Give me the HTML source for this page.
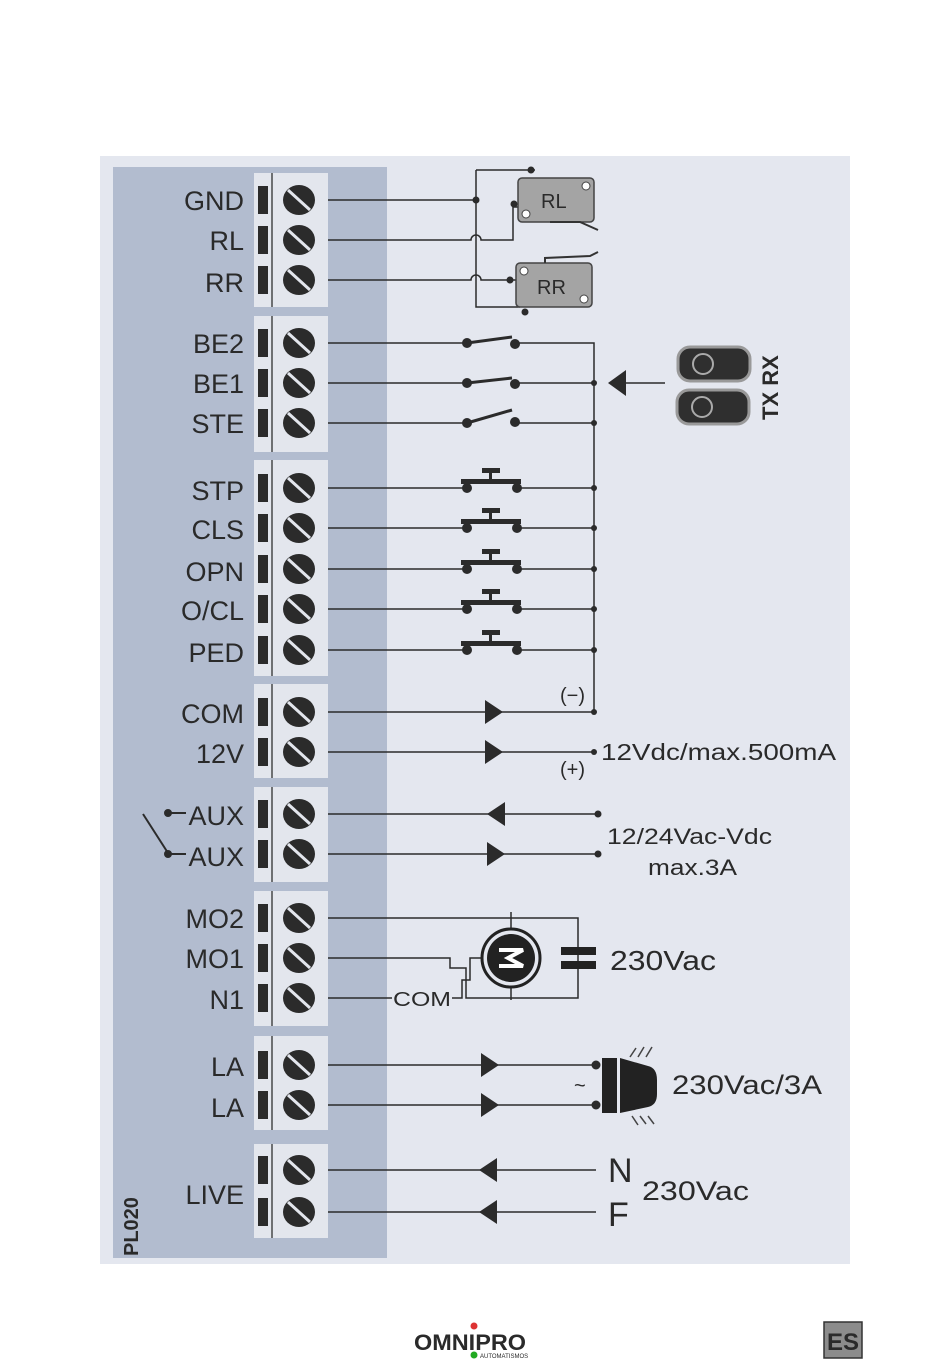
<!DOCTYPE html>
<html><head><meta charset="utf-8"><style>
html,body{margin:0;padding:0;background:#fff;}
svg{display:block;}
text{font-family:"Liberation Sans",sans-serif;fill:#2a2a2a;}
</style></head><body>
<svg width="950" height="1364" viewBox="0 0 950 1364" xmlns="http://www.w3.org/2000/svg">
<rect x="0" y="0" width="950" height="1364" fill="#fff"/>
<rect x="100" y="156" width="750" height="1108" fill="#e4e7ef"/>
<rect x="113" y="167" width="274" height="1091" fill="#b2bccf"/>
<g fill="#e3e6ed">
<rect x="254" y="173" width="74" height="134"/>
<rect x="254" y="316" width="74" height="136"/>
<rect x="254" y="460" width="74" height="216"/>
<rect x="254" y="684" width="74" height="94"/>
<rect x="254" y="787" width="74" height="95"/>
<rect x="254" y="891" width="74" height="135"/>
<rect x="254" y="1036" width="74" height="94"/>
<rect x="254" y="1144" width="74" height="94"/>
</g>
<g stroke="#222" stroke-width="1.2">
<line x1="272" y1="173" x2="272" y2="307"/><line x1="272" y1="316" x2="272" y2="452"/>
<line x1="272" y1="460" x2="272" y2="676"/><line x1="272" y1="684" x2="272" y2="778"/>
<line x1="272" y1="787" x2="272" y2="882"/><line x1="272" y1="891" x2="272" y2="1026"/>
<line x1="272" y1="1036" x2="272" y2="1130"/><line x1="272" y1="1144" x2="272" y2="1238"/>
</g>
<defs>
<g id="t">
<rect x="258" y="-14" width="10" height="28" fill="#2b2b2b"/>
<ellipse cx="299" cy="0" rx="16" ry="15" fill="#2b2b2b"/>
<line x1="288" y1="-10" x2="310" y2="10" stroke="#e3e6ed" stroke-width="3"/>
</g>
<g id="pb" fill="#2b2b2b">
<circle cx="467" cy="0" r="5"/><circle cx="517" cy="0" r="5"/>
<rect x="461" y="-9" width="60" height="5"/>
<rect x="489" y="-15" width="3" height="7"/>
<rect x="482" y="-20" width="18" height="5"/>
</g>
</defs>
<g font-size="27" text-anchor="end">
<use href="#t" y="200"/><text x="244" y="210">GND</text>
<use href="#t" y="240"/><text x="244" y="250">RL</text>
<use href="#t" y="280"/><text x="244" y="292">RR</text>
<use href="#t" y="343"/><text x="244" y="353">BE2</text>
<use href="#t" y="383"/><text x="244" y="393">BE1</text>
<use href="#t" y="423"/><text x="244" y="433">STE</text>
<use href="#t" y="488"/><text x="244" y="500">STP</text>
<use href="#t" y="528"/><text x="244" y="539">CLS</text>
<use href="#t" y="569"/><text x="244" y="581">OPN</text>
<use href="#t" y="609"/><text x="244" y="620">O/CL</text>
<use href="#t" y="650"/><text x="244" y="662">PED</text>
<use href="#t" y="712"/><text x="244" y="723">COM</text>
<use href="#t" y="752"/><text x="244" y="763">12V</text>
<use href="#t" y="814"/><text x="244" y="825">AUX</text>
<use href="#t" y="854"/><text x="244" y="866">AUX</text>
<use href="#t" y="918"/><text x="244" y="928">MO2</text>
<use href="#t" y="958"/><text x="244" y="968">MO1</text>
<use href="#t" y="998"/><text x="244" y="1009">N1</text>
<use href="#t" y="1065"/><text x="244" y="1076">LA</text>
<use href="#t" y="1105"/><text x="244" y="1117">LA</text>
<use href="#t" y="1170"/><text x="244" y="1204">LIVE</text>
<use href="#t" y="1212"/>
</g>
<g stroke="#2b2b2b" stroke-width="2" fill="#2b2b2b">
<line x1="143" y1="814" x2="168" y2="853"/>
<circle cx="168" cy="813" r="3"/><line x1="168" y1="813" x2="186" y2="813"/>
<circle cx="168" cy="854" r="3"/><line x1="168" y1="854" x2="186" y2="854"/>
</g>
<text x="138" y="1256" font-size="20" font-weight="bold" transform="rotate(-90 138 1256)" fill="#222">PL020</text>
<g stroke="#2b2b2b" stroke-width="1.5" fill="none">
<path d="M328 200 H476"/>
<path d="M476 170 V307 H520"/>
<path d="M476 170 H535"/>
<path d="M328 240 H471 a5 5 0 0 1 10 0 H513 V207 H520"/>
<path d="M328 280 H471 a5 5 0 0 1 10 0 H520"/>
<path d="M328 343 H467 M517 343 H594 V712"/>
<path d="M328 383 H467 M517 383 H594"/>
<path d="M328 423 H467 M517 423 H594"/>
<path d="M328 488 H467 M517 488 H594"/>
<path d="M328 528 H467 M517 528 H594"/>
<path d="M328 569 H467 M517 569 H594"/>
<path d="M328 609 H467 M517 609 H594"/>
<path d="M328 650 H467 M517 650 H594"/>
<path d="M328 712 H594"/>
<path d="M328 752 H594"/>
<path d="M328 814 H598"/>
<path d="M328 854 H598"/>
<path d="M612 383 H665"/>
<path d="M328 918 H578 V998 H466 V968 H450 V958 H328"/>
<path d="M328 998 H392 M452 998 H462 V980 H470 V958 H483"/>
<path d="M511 912 V930 M511 986 V1000"/>
<path d="M328 1065 H596 M328 1105 H596"/>
<path d="M328 1170 H596 M328 1212 H596"/>
</g>
<g>
<rect x="518" y="178" width="76" height="44" rx="4" fill="#a4a4a4" stroke="#444" stroke-width="1.5"/>
<circle cx="586" cy="186" r="4" fill="#fff" stroke="#444"/><circle cx="526" cy="214" r="4" fill="#fff" stroke="#444"/>
<path d="M550 222 L580 222 L598 230" stroke="#333" stroke-width="2" fill="none"/>
<text x="541" y="208" font-size="20" fill="#333">RL</text>
<rect x="516" y="263" width="76" height="44" rx="4" fill="#a4a4a4" stroke="#444" stroke-width="1.5"/>
<circle cx="524" cy="271" r="4" fill="#fff" stroke="#444"/><circle cx="584" cy="299" r="4" fill="#fff" stroke="#444"/>
<path d="M545 263 L545 258 L590 256 L598 252" stroke="#333" stroke-width="2" fill="none"/>
<text x="537" y="294" font-size="20" fill="#333">RR</text>
</g>
<g fill="#2b2b2b">
<circle cx="476" cy="200" r="3.5"/><circle cx="514" cy="204" r="3.5"/><circle cx="531" cy="170" r="3.5"/>
<circle cx="510" cy="280" r="3.5"/><circle cx="525" cy="312" r="3.5"/>
<circle cx="467" cy="343" r="5"/><circle cx="515" cy="344" r="5"/><path d="M467 343 L512 337" stroke="#2b2b2b" stroke-width="3"/>
<circle cx="467" cy="383" r="5"/><circle cx="515" cy="384" r="5"/><path d="M467 383 L512 378" stroke="#2b2b2b" stroke-width="3"/>
<circle cx="467" cy="423" r="5"/><circle cx="515" cy="422" r="5"/><path d="M467 423 L512 410" stroke="#2b2b2b" stroke-width="3"/>
<circle cx="594" cy="383" r="3"/><circle cx="594" cy="423" r="3"/><circle cx="594" cy="488" r="3"/>
<circle cx="594" cy="528" r="3"/><circle cx="594" cy="569" r="3"/><circle cx="594" cy="609" r="3"/>
<circle cx="594" cy="650" r="3"/><circle cx="594" cy="712" r="3"/><circle cx="594" cy="752" r="3"/>
<circle cx="598" cy="814" r="3.5"/><circle cx="598" cy="854" r="3.5"/>
<polygon points="608,383 626,370 626,396"/>
<polygon points="503,712 485,700 485,724"/><polygon points="503,752 485,740 485,764"/>
<polygon points="487,814 505,802 505,826"/><polygon points="505,854 487,842 487,866"/>
<polygon points="499,1065 481,1053 481,1077"/><polygon points="499,1105 481,1093 481,1117"/>
<polygon points="479,1170 497,1158 497,1182"/><polygon points="479,1212 497,1200 497,1224"/>
<circle cx="596" cy="1065" r="4.5"/><circle cx="596" cy="1105" r="4.5"/>
</g>
<use href="#pb" y="488"/><use href="#pb" y="528"/><use href="#pb" y="569"/><use href="#pb" y="609"/><use href="#pb" y="650"/>
<rect x="678" y="347" width="72" height="34" rx="12" fill="#2f2f2f" stroke="#999" stroke-width="3"/>
<circle cx="703" cy="364" r="10" fill="none" stroke="#aaa" stroke-width="2"/>
<rect x="677" y="390" width="72" height="34" rx="12" fill="#2f2f2f" stroke="#999" stroke-width="3"/>
<circle cx="702" cy="407" r="10" fill="none" stroke="#aaa" stroke-width="2"/>
<text x="778" y="420" font-size="22" font-weight="bold" transform="rotate(-90 778 420)" fill="#222">TX RX</text>
<g font-size="20">
<text x="560" y="702">(−)</text><text x="560" y="776">(+)</text>
<text x="601" y="760" font-size="23" textLength="235" lengthAdjust="spacingAndGlyphs">12Vdc/max.500mA</text>
<text x="607" y="844" font-size="22" textLength="165" lengthAdjust="spacingAndGlyphs">12/24Vac-Vdc</text>
<text x="648" y="875" font-size="22" textLength="89" lengthAdjust="spacingAndGlyphs">max.3A</text>
<text x="393" y="1006" textLength="58" lengthAdjust="spacingAndGlyphs">COM</text>
</g>
<circle cx="511" cy="958" r="29" fill="#e4e7ef" stroke="#222" stroke-width="3"/>
<circle cx="511" cy="958" r="24" fill="#222"/>
<path d="M499 950 H523 L508 958 L523 966 H499" stroke="#fff" stroke-width="4" fill="none"/>
<rect x="561" y="947" width="35" height="8" fill="#222"/><rect x="561" y="961" width="35" height="8" fill="#222"/>
<text x="610" y="970" font-size="28" textLength="106" lengthAdjust="spacingAndGlyphs">230Vac</text>
<rect x="602" y="1058" width="15" height="55" fill="#222"/>
<path d="M620 1058 L648 1066 Q657 1068 657 1080 V1094 Q657 1105 648 1107 L620 1113 Z" fill="#222"/>
<text x="574" y="1092" font-size="20">~</text>
<g stroke="#444" stroke-width="1.5"><line x1="630" y1="1057" x2="636" y2="1048"/><line x1="638" y1="1057" x2="644" y2="1047"/><line x1="646" y1="1057" x2="652" y2="1047"/>
<line x1="632" y1="1116" x2="638" y2="1125"/><line x1="640" y1="1116" x2="646" y2="1124"/><line x1="648" y1="1116" x2="654" y2="1124"/></g>
<text x="672" y="1094" font-size="27" textLength="150" lengthAdjust="spacingAndGlyphs">230Vac/3A</text>
<text x="608" y="1182" font-size="34">N</text>
<text x="608" y="1226" font-size="34">F</text>
<text x="642" y="1200" font-size="27" textLength="107" lengthAdjust="spacingAndGlyphs">230Vac</text>
<text x="414" y="1350" font-size="22" font-weight="900" fill="#222" textLength="112" lengthAdjust="spacingAndGlyphs">OMNIPRO</text>
<circle cx="474" cy="1326" r="3.5" fill="#d33"/><circle cx="474" cy="1355" r="3.5" fill="#2a2"/>
<text x="480" y="1358" font-size="6" fill="#222">AUTOMATISMOS</text>
<rect x="824" y="1322" width="38" height="36" fill="#8c8c8c" stroke="#333" stroke-width="1.5"/>
<text x="843" y="1350" font-size="24" font-weight="bold" fill="#fff" text-anchor="middle">ES</text>
</svg>
</body></html>
